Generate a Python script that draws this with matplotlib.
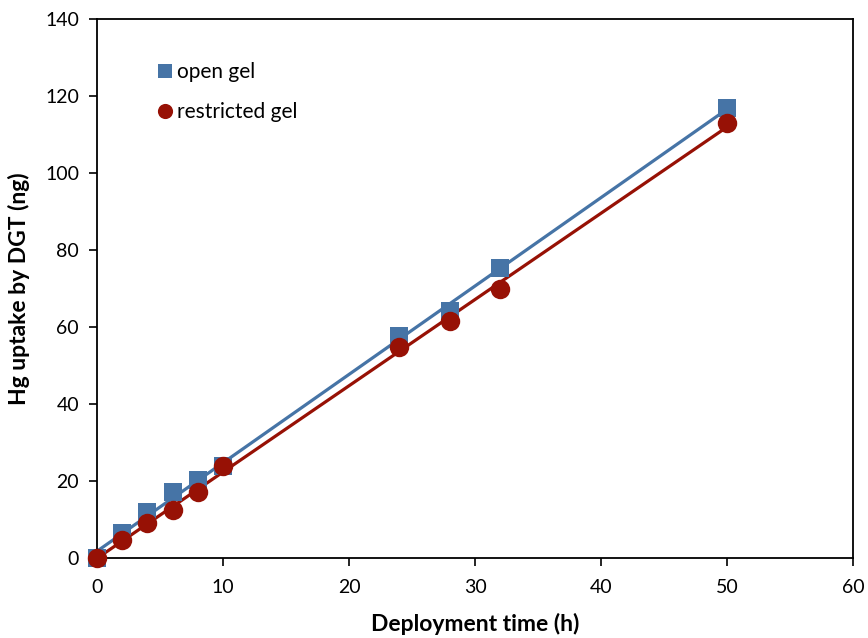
import numpy as np
import matplotlib.pyplot as plt

# Deployment times (h) and Hg mass accumulated (ng)
time_h = [0, 2, 4, 6, 8, 10, 24, 28, 32, 50]
open_gel = [0.0, 6.5, 12.0, 17.2, 20.3, 24.0, 57.7, 64.2, 75.3, 117.0]
restricted_gel = [0.0, 4.8, 9.2, 12.5, 17.1, 23.8, 54.8, 61.5, 70.0, 113.0]

blue = '#4674a6'
red = '#971105'

plt.rcParams['font.family'] = ['Lato', 'DejaVu Sans']

fig = plt.figure(figsize=(8.68, 6.38), dpi=100)
ax = fig.add_axes([0.1118, 0.1254, 0.8709, 0.8448])

# linear trend lines through each series
for y, col in ((open_gel, blue), (restricted_gel, red)):
    p = np.polyfit(time_h, y, 1)
    xx = np.array([min(time_h), max(time_h)])
    ax.plot(xx, np.polyval(p, xx), color=col, lw=2.3, zorder=2)

ax.plot(time_h, open_gel, 's', color=blue, markersize=13, mew=0,
        label='open gel', zorder=3)
ax.plot(time_h, restricted_gel, 'o', color=red, markersize=14, mew=0,
        label='restricted gel', zorder=4)

ax.set_xlim(0, 60)
ax.set_ylim(0, 140)
ax.set_xticks(range(0, 61, 10))
ax.set_yticks(range(0, 141, 20))
ax.tick_params(direction='out', length=6, width=1.2, labelsize=14,
               top=False, right=False)
ax.tick_params(axis='x', pad=9)
ax.tick_params(axis='y', pad=7)
for s in ax.spines.values():
    s.set_linewidth(1.3)
for line in ax.lines:
    line.set_clip_on(False)

ax.set_xlabel('Deployment time (h)', fontsize=16.5, fontweight='bold', labelpad=12)
ax.set_ylabel('Hg uptake by DGT (ng)', fontsize=16.5, fontweight='bold', labelpad=11)

ax.legend(loc='upper left', bbox_to_anchor=(0.056, 0.955), frameon=False,
          fontsize=15, handlelength=0.65, handletextpad=0.25,
          labelspacing=0.95, markerscale=0.78)

fig.savefig('out.png', dpi=100)
